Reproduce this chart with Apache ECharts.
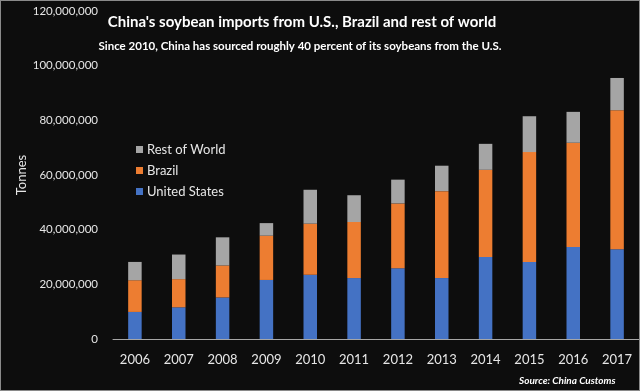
<!DOCTYPE html>
<html><head><meta charset="utf-8">
<script src="https://cdn.jsdelivr.net/npm/echarts@6/dist/echarts.min.js"></script>
<style>html,body{margin:0;padding:0;background:#0d0d0d;}#c{width:640px;height:391px;box-sizing:border-box;border:1px solid #8a8a8a;}</style>
</head><body><div id="c"></div>
<script>
const years = ['2006','2007','2008','2009','2010','2011','2012','2013','2014','2015','2016','2017'];
const unitedStates = [9.9e6, 11.6e6, 15.2e6, 21.6e6, 23.5e6, 22.3e6, 25.9e6, 22.3e6, 30.0e6, 28.2e6, 33.7e6, 32.8e6];
const brazil = [11.6e6, 10.3e6, 11.7e6, 16.2e6, 18.7e6, 20.5e6, 23.7e6, 31.8e6, 31.9e6, 40.2e6, 38.1e6, 50.9e6];
const restOfWorld = [6.7e6, 9.0e6, 10.3e6, 4.6e6, 12.4e6, 9.8e6, 8.7e6, 9.3e6, 9.5e6, 13.1e6, 11.3e6, 11.8e6];

const chart = echarts.init(document.getElementById('c'), null, {renderer:'canvas'});
const font = 'Lato, "Open Sans", sans-serif';
chart.setOption({
  backgroundColor: '#0d0d0d',
  animation: false,
  title: [{
    text: "China's soybean imports from U.S., Brazil and rest of world",
    left: 296, top: 9, textAlign: 'center',
    textStyle: {color: '#ffffff', fontSize: 15, fontWeight: 'bold', fontFamily: font}
  },{
    text: 'Since 2010, China has sourced roughly 40 percent of its soybeans from the U.S.',
    left: 294, top: 34, textAlign: 'center',
    textStyle: {color: '#ffffff', fontSize: 11.5, fontWeight: 'bold', fontFamily: font}
  },{
    text: 'Source: China Customs',
    left: 513, top: 370,
    textStyle: {color: '#ffffff', fontSize: 10, fontWeight: 'bold', fontStyle: 'italic', fontFamily: font}
  }],
  legend: {
    orient: 'vertical', left: 130, top: 137,
    itemWidth: 7, itemHeight: 7, itemGap: 8,
    icon: 'rect',
    data: ['Rest of World', 'Brazil', 'United States'],
    textStyle: {color: '#e6e6e6', fontSize: 13, fontFamily: font, padding: [0,0,0,-1]}
  },
  grid: {left: 112, right: 0, top: 10, bottom: 51, containLabel: false, outerBoundsMode: 'none'},
  xAxis: {
    type: 'category', data: years,
    axisLine: {lineStyle: {color: '#a6a6a6', width: 1}},
    axisTick: {show: false},
    axisLabel: {color: '#e6e6e6', fontSize: 13, fontFamily: font, margin: 14}
  },
  yAxis: {
    type: 'value', min: 0, max: 120000000, interval: 20000000,
    name: 'Tonnes', nameLocation: 'middle', nameGap: 85, nameRotate: 90, nameMoveOverlap: false,
    nameTextStyle: {color: '#e6e6e6', fontSize: 13, fontFamily: font},
    axisLine: {show: false}, axisTick: {show: false},
    splitLine: {show: false},
    axisLabel: {color: '#e6e6e6', fontSize: 11.5, fontFamily: font, margin: 15,
      formatter: v => v.toLocaleString('en-US')}
  },
  series: [
    {name: 'United States', type: 'bar', stack: 't', data: unitedStates, barWidth: 13.5, itemStyle: {color: '#4472C4'}},
    {name: 'Brazil', type: 'bar', stack: 't', data: brazil, barWidth: 13.5, itemStyle: {color: '#ED7D31'}},
    {name: 'Rest of World', type: 'bar', stack: 't', data: restOfWorld, barWidth: 13.5, itemStyle: {color: '#A5A5A5'}}
  ]
});
</script></body></html>
